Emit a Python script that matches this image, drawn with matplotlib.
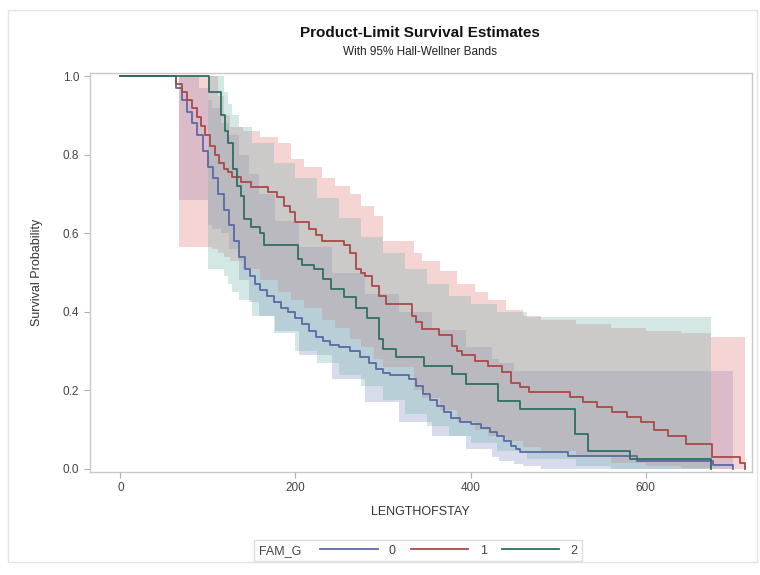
import matplotlib.pyplot as plt
from matplotlib.lines import Line2D
from matplotlib.patches import Rectangle
from matplotlib.offsetbox import HPacker

plt.rcParams['font.family'] = ['Liberation Sans', 'DejaVu Sans']

# Kaplan-Meier step estimates per FAM_G group (time, survival after the drop)
t0 = [0, 64, 70, 76, 82, 88, 94, 100, 106, 112, 118, 124, 130, 136, 142, 148, 154, 160,
      168, 176, 184, 192, 200, 208, 216, 224, 232, 240, 250, 262, 274, 284, 292, 300, 308,
      330, 338, 346, 354, 362, 370, 378, 388, 400, 412, 422, 430, 438, 446, 452, 456,
      511, 590, 677, 700]
s0 = [1.0, 0.97, 0.94, 0.91, 0.88, 0.85, 0.81, 0.77, 0.74, 0.70, 0.66, 0.62, 0.58, 0.54,
      0.51, 0.49, 0.47, 0.455, 0.44, 0.425, 0.41, 0.40, 0.385, 0.37, 0.35, 0.335, 0.325,
      0.315, 0.31, 0.30, 0.285, 0.27, 0.255, 0.245, 0.24, 0.23, 0.21, 0.19, 0.175, 0.16,
      0.145, 0.13, 0.12, 0.115, 0.105, 0.095, 0.085, 0.07, 0.058, 0.05, 0.042, 0.034,
      0.021, 0.01, 0.0]

t1 = [0, 64, 70, 76, 82, 87, 92, 97, 102, 108, 113, 118, 123, 128, 138, 149, 169, 179,
      187, 194, 200, 215, 223, 230, 256, 262, 269, 275, 280, 287, 295, 303, 333, 338, 344,
      364, 379, 385, 390, 405, 420, 436, 446, 456, 467, 513, 528, 544, 562, 579, 595, 610,
      626, 646, 676, 708, 713]
s1 = [1.0, 0.98, 0.96, 0.94, 0.92, 0.895, 0.874, 0.85, 0.823, 0.80, 0.78, 0.764, 0.755,
      0.743, 0.73, 0.717, 0.705, 0.692, 0.67, 0.654, 0.628, 0.61, 0.595, 0.58, 0.57, 0.55,
      0.51, 0.50, 0.49, 0.467, 0.44, 0.42, 0.39, 0.374, 0.357, 0.34, 0.314, 0.30, 0.289,
      0.276, 0.263, 0.246, 0.22, 0.208, 0.195, 0.182, 0.17, 0.157, 0.144, 0.132, 0.119,
      0.10, 0.085, 0.064, 0.03, 0.015, 0.0]

t2 = [0, 101, 115, 120, 123, 129, 133, 138, 141, 149, 159, 164, 203, 208, 221, 231, 241,
      256, 269, 282, 295, 300, 315, 347, 379, 395, 431, 456, 519, 534, 582, 675]
s2 = [1.0, 0.96, 0.90, 0.86, 0.83, 0.764, 0.72, 0.696, 0.637, 0.615, 0.60, 0.569, 0.535,
      0.52, 0.51, 0.484, 0.458, 0.437, 0.41, 0.385, 0.33, 0.306, 0.285, 0.263, 0.242,
      0.216, 0.174, 0.153, 0.089, 0.046, 0.025, 0.0]

# Hall-Wellner band limits per group
bt0 = [67, 90, 100, 105, 115, 124, 135, 147, 158, 177, 204, 242, 280, 318, 356, 395, 425,
       433, 450, 460, 480, 700]
blo0 = [0.685, 0.685, 0.62, 0.61, 0.60, 0.56, 0.48, 0.425, 0.39, 0.35, 0.29, 0.23, 0.17,
        0.12, 0.085, 0.05, 0.03, 0.02, 0.012, 0.008, 0.0, 0.0]
bhi0 = [1.0, 0.97, 0.94, 0.92, 0.88, 0.85, 0.80, 0.75, 0.70, 0.63, 0.565, 0.50, 0.445,
        0.40, 0.355, 0.31, 0.28, 0.27, 0.25, 0.25, 0.25, 0.25]

bt1 = [67, 100, 105, 112, 118, 125, 140, 160, 180, 195, 210, 230, 245, 262, 275, 290, 300,
       335, 345, 365, 385, 405, 420, 440, 460, 480, 520, 560, 600, 640, 675, 713]
blo1 = [0.565, 0.565, 0.56, 0.55, 0.54, 0.53, 0.51, 0.48, 0.45, 0.43, 0.41, 0.38, 0.36,
        0.33, 0.31, 0.28, 0.26, 0.20, 0.18, 0.15, 0.12, 0.10, 0.085, 0.07, 0.055, 0.045,
        0.03, 0.015, 0.008, 0.003, 0.0, 0.0]
bhi1 = [1.0, 1.0, 1.0, 0.95, 0.90, 0.87, 0.86, 0.845, 0.83, 0.79, 0.77, 0.74, 0.72, 0.70,
        0.67, 0.645, 0.58, 0.55, 0.53, 0.505, 0.47, 0.45, 0.43, 0.405, 0.39, 0.38, 0.37,
        0.36, 0.35, 0.345, 0.336, 0.336]

bt2 = [100, 113, 118, 123, 128, 135, 150, 175, 200, 225, 250, 275, 300, 325, 350, 375, 400,
       430, 464, 520, 560, 675]
blo2 = [0.51, 0.51, 0.49, 0.47, 0.45, 0.43, 0.39, 0.345, 0.30, 0.27, 0.24, 0.21, 0.175,
        0.14, 0.11, 0.085, 0.065, 0.045, 0.025, 0.008, 0.0, 0.0]
bhi2 = [1.0, 1.0, 0.96, 0.93, 0.90, 0.87, 0.83, 0.78, 0.74, 0.69, 0.64, 0.59, 0.55, 0.51,
        0.47, 0.44, 0.42, 0.40, 0.386, 0.386, 0.386, 0.386]

groups = ['0', '1', '2']
line_colors = ['#5a6aa6', '#a84a48', '#2e6e64']
band_colors = ['#8490c4', '#e27a7a', '#78b6b0']

fig = plt.figure(figsize=(7.6, 5.75), dpi=100)
fig.patches.append(Rectangle((0.011, 0.022), 0.985, 0.96, transform=fig.transFigure,
                             fill=False, edgecolor='#e4e4e4', linewidth=1))
ax = fig.add_axes([0.118, 0.179, 0.871, 0.694])

bands = [(bt0, blo0, bhi0), (bt1, blo1, bhi1), (bt2, blo2, bhi2)]
for (bt, lo, hi), c in zip(bands, band_colors):
    ax.fill_between(bt, lo, hi, step='post', color=c, alpha=0.32, linewidth=0)

curves = [(t0, s0), (t1, s1), (t2, s2)]
for (t, s), c in zip(curves, line_colors):
    ax.step(t, s, where='post', color=c, linewidth=1.3)

ax.set_xlim(-35, 721)
ax.set_ylim(-0.008, 1.008)
ax.set_xticks([0, 200, 400, 600])
ax.set_yticks([0.0, 0.2, 0.4, 0.6, 0.8, 1.0])
ax.set_yticklabels(['0.0', '0.2', '0.4', '0.6', '0.8', '1.0'])
for sp in ax.spines.values():
    sp.set_color('#c8c8c8')
    sp.set_linewidth(1)
ax.tick_params(colors='#b0b0b0', labelcolor='#444444', labelsize=8.5, length=4)
ax.set_xlabel('LENGTHOFSTAY', fontsize=9, color='#333333', labelpad=8)
ax.set_ylabel('Survival Probability', fontsize=9, color='#333333', labelpad=14)

fig.text(0.553, 0.942, 'Product-Limit Survival Estimates', ha='center', va='center',
         fontsize=11, fontweight='bold', color='#111111')
fig.text(0.553, 0.909, 'With 95% Hall-Wellner Bands', ha='center', va='center',
         fontsize=8.5, color='#222222')

handles = [Line2D([], [], color=c, linewidth=1.3) for c in line_colors]
leg = fig.legend(handles, groups, title='FAM_G', ncol=3, loc='center',
                 bbox_to_anchor=(0.55, 0.042), fontsize=9, title_fontsize=9,
                 handlelength=4.6, handletextpad=0.9, columnspacing=1.2,
                 frameon=True, fancybox=False, edgecolor='#d8d8d8',
                 borderpad=0.35)
leg.get_frame().set_linewidth(1)
leg._legend_box.__class__ = HPacker
leg._legend_box.sep = 14
leg._legend_box.align = 'center'
for txt in leg.get_texts():
    txt.set_color('#444444')
leg.get_title().set_color('#444444')

fig.savefig('out.png', dpi=100)
